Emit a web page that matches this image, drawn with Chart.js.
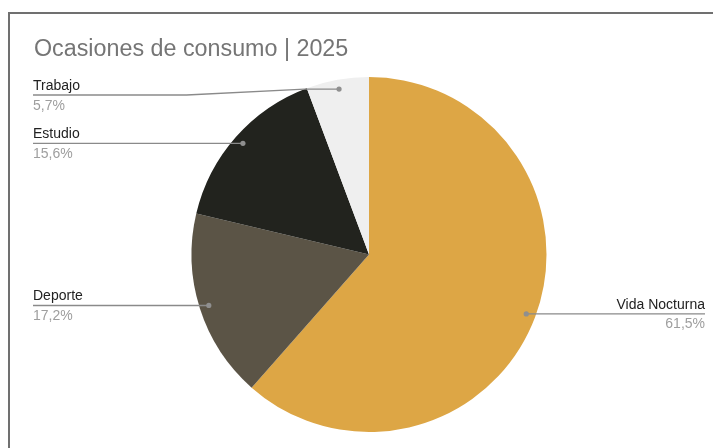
<!DOCTYPE html>
<html>
<head>
<meta charset="utf-8">
<script src="https://cdn.jsdelivr.net/npm/chart.js@4/dist/chart.umd.min.js"></script>
<style>
  html, body { margin: 0; padding: 0; background: #ffffff; }
  #wrap { width: 715px; height: 448px; position: relative; }
</style>
</head>
<body>
<div id="wrap"><canvas id="pie" width="715" height="448"></canvas></div>
<script>
// Occasions of consumption, 2025 (share in %)
const chartTitle = 'Ocasiones de consumo | 2025';
const categories = ['Vida Nocturna', 'Deporte', 'Estudio', 'Trabajo'];
const shares = [61.5, 17.2, 15.6, 5.7];
const sliceColors = ['#DDA645', '#5B5446', '#22231E', '#EFEFEF'];

const FONT = '"Liberation Sans", Arial, Helvetica, sans-serif';

function pctText(v) {
  return v.toFixed(1).replace('.', ',') + '%';
}

// Frame, title and leader-line labels drawn around the pie
const decorations = {
  id: 'decorations',
  beforeDraw(chart) {
    const ctx = chart.ctx;
    ctx.save();
    ctx.fillStyle = '#ffffff';
    ctx.fillRect(0, 0, chart.width, chart.height);
    ctx.restore();
  },
  afterDraw(chart) {
    const ctx = chart.ctx;
    ctx.save();

    // outer frame (left and top edges)
    ctx.strokeStyle = '#707070';
    ctx.lineWidth = 2;
    ctx.beginPath();
    ctx.moveTo(9, 448);
    ctx.lineTo(9, 13);
    ctx.lineTo(713, 13);
    ctx.stroke();

    // title
    ctx.fillStyle = '#757575';
    ctx.font = '23.3px ' + FONT;
    ctx.textBaseline = 'alphabetic';
    ctx.textAlign = 'left';
    ctx.fillText(chartTitle, 34, 56);

    // leader lines and labels
    const meta = chart.getDatasetMeta(0);
    const minLineY = 95;
    const leftX = 33, rightX = 705;
    meta.data.forEach((arc, i) => {
      const p = arc.getProps(['x', 'y', 'startAngle', 'endAngle', 'outerRadius'], true);
      const mid = (p.startAngle + p.endAngle) / 2;
      const rr = p.outerRadius * 0.947;
      const dx = p.x + Math.cos(mid) * rr;
      const dy = p.y + Math.sin(mid) * rr;
      const lineY = Math.max(dy, minLineY);
      const left = dx < p.x;

      ctx.strokeStyle = '#8a8a8a';
      ctx.lineWidth = 1.4;
      ctx.beginPath();
      ctx.moveTo(dx, dy);
      if (Math.abs(lineY - dy) > 0.5) {
        const off = Math.sqrt(Math.max(p.outerRadius * p.outerRadius - (dy - p.y) * (dy - p.y), 0));
        const edgeX = left ? p.x - off : p.x + off;
        ctx.lineTo(edgeX, dy);
        ctx.lineTo(left ? edgeX - 118 : edgeX + 118, lineY);
      }
      ctx.lineTo(left ? leftX : rightX, lineY);
      ctx.stroke();

      ctx.fillStyle = '#8f8f8f';
      ctx.beginPath();
      ctx.arc(dx, dy, 2.6, 0, Math.PI * 2);
      ctx.fill();

      ctx.textAlign = left ? 'left' : 'right';
      const tx = left ? leftX : rightX;
      ctx.font = '14px ' + FONT;
      ctx.fillStyle = '#222222';
      ctx.fillText(categories[i], tx, lineY - 5);
      ctx.fillStyle = '#9e9e9e';
      ctx.fillText(pctText(shares[i]), tx, lineY + 14.5);
    });

    ctx.restore();
  }
};

new Chart(document.getElementById('pie'), {
  type: 'pie',
  data: {
    labels: categories,
    datasets: [{
      data: shares,
      backgroundColor: sliceColors,
      borderWidth: 0,
      hoverOffset: 0,
      offset: 0
    }]
  },
  options: {
    responsive: false,
    animation: false,
    events: [],
    layout: { padding: { left: 191.5, right: 168.5, top: 77, bottom: 16 } },
    plugins: {
      legend: { display: false },
      title: { display: false },
      tooltip: { enabled: false }
    }
  },
  plugins: [decorations]
});
</script>
</body>
</html>
